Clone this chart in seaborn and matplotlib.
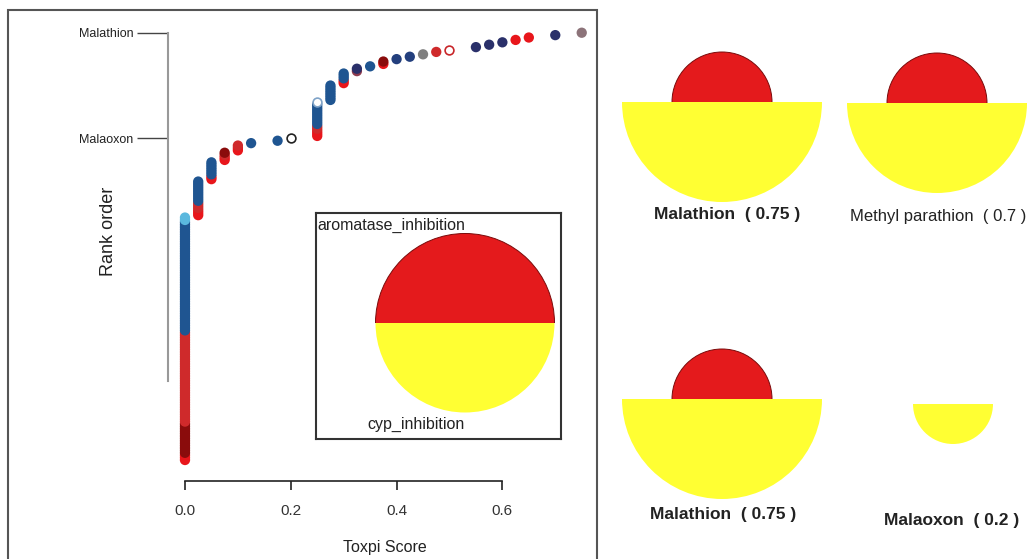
"""
ToxPi scores in rank order, with the slice key and four example glyphs
"""

import numpy as np
import pandas as pd
import matplotlib
matplotlib.use("Agg")
import matplotlib.pyplot as plt
from matplotlib.patches import Wedge, Rectangle, Arc
import seaborn as sns

# ---- data -------------------------------------------------------------
# ToxPi score levels, low to high
scores = [0.0, 0.025, 0.05, 0.075, 0.1, 0.125, 0.175, 0.2, 0.25, 0.275,
          0.3, 0.325, 0.35, 0.375, 0.4, 0.425, 0.45, 0.475, 0.5, 0.55,
          0.575, 0.6, 0.625, 0.65, 0.7, 0.75]

# chemicals at each score (bottom to top of the column): (group, count)
groups = [
    [("red", 3), ("darkred", 13), ("brick", 38), ("blue", 46), ("cyan", 2)],
    [("red", 3), ("brick", 3), ("blue", 9)],
    [("red", 2), ("blue", 6)],
    [("red", 2), ("brick", 1), ("darkred", 1)],
    [("red", 2), ("brick", 1)],
    [("blue", 1)],
    [("blue", 1)],
    [("open_black", 1)],
    [("red", 3), ("brick", 2), ("blue", 9), ("open_blue", 1)],
    [("blue", 7)],
    [("red", 2), ("blue", 3)],
    [("plum", 1), ("navy", 1)],
    [("blue", 1)],
    [("red", 1), ("darkred", 1)],
    [("steel", 1)],
    [("steel", 1)],
    [("gray", 1)],
    [("brick", 1)],
    [("open_red", 1)],
    [("navy", 1)],
    [("navy", 1)],
    [("navy", 1)],
    [("red", 1)],
    [("red", 1)],
    [("navy", 1)],
    [("mauve", 1)],
]

labelled = {"Malathion": 0.75, "Malaoxon": 0.2}

# ToxPi glyphs on the right
glyph_names = ["Malathion", "Methyl parathion", "Malathion", "Malaoxon"]
aromatase = [0.5, 0.5, 0.5, 0.0]
cyp = [1.0, 0.9, 1.0, 0.4]
glyph_bold = [True, False, True, True]
slice_names = ["aromatase_inhibition", "cyp_inhibition"]

palette = {
    "red": "#E8161B", "brick": "#CF2A2B", "darkred": "#8A0C0C",
    "blue": "#1F5591", "cyan": "#5BB8DE", "navy": "#2A306A",
    "steel": "#233F7D", "plum": "#8E3B4E", "gray": "#7F7F7F",
    "mauve": "#8C7379",
}
open_edges = {"open_black": "#222222", "open_red": "#C8262A", "open_blue": "#7FA3C8"}
RED, YELLOW, EDGE = "#E41A1C", "#FFFF33", "#7A0A0A"

# ---- build the rank table ---------------------------------------------
rows = []
for sc, runs in zip(scores, groups):
    for grp, n in runs:
        rows.extend([(sc, grp)] * n)
df = pd.DataFrame(rows, columns=["score", "group"])
df["rank"] = np.arange(1, len(df) + 1)

sns.set_style("white")
plt.rcParams["font.family"] = ["Liberation Sans", "DejaVu Sans"]
TXT = "#222222"

W, H = 1032, 559
fig = plt.figure(figsize=(W / 100, H / 100), dpi=100)


def px_axes(left, top, right, bottom):
    return fig.add_axes([left / W, 1 - bottom / H, (right - left) / W, (bottom - top) / H])


def half_top(axis, cx, cy, r):
    # red upper half with a thin dark rim on the arc only
    axis.add_patch(Wedge((cx, cy), r, 0, 180, facecolor=RED, edgecolor="none"))
    axis.add_patch(Arc((cx, cy), 2 * r, 2 * r, theta1=0, theta2=180,
                       color=EDGE, linewidth=0.7))


# ---- main rank plot ---------------------------------------------------
ax = px_axes(168, 20, 595, 481)
filled = df[~df["group"].isin(open_edges)]
sns.scatterplot(data=filled, x="score", y="rank", hue="group", palette=palette,
                s=55, linewidth=0, legend=False, ax=ax)
for grp, ec in open_edges.items():
    sub = df[df["group"] == grp]
    ax.scatter(sub["score"], sub["rank"], s=40, facecolors="white",
               edgecolors=ec, linewidths=1.2, zorder=3)

ax.set_xlim(-0.0321, 0.7751)
ax.set_ylim(-7.75, 184.3)
for side in ["top", "right"]:
    ax.spines[side].set_visible(False)
ax.spines["bottom"].set_bounds(0, 0.6)
ax.spines["bottom"].set_color(TXT)
ax.spines["bottom"].set_linewidth(1.2)
ax.spines["left"].set_bounds(34, 179)
ax.spines["left"].set_color("#999999")
ax.spines["left"].set_linewidth(1.5)

ax.set_xticks([0, 0.2, 0.4, 0.6])
ax.set_xticklabels(["0.0", "0.2", "0.4", "0.6"])
ax.tick_params(axis="x", length=6.5, width=1.2, color=TXT, pad=10,
               labelsize=11, labelcolor="#333333", bottom=True)

label_ranks = [df.loc[df["score"] == v, "rank"].max() for v in labelled.values()]
ax.set_yticks(label_ranks)
ax.set_yticklabels(list(labelled.keys()))
ax.tick_params(axis="y", length=22, width=1, color="#444444", pad=3,
               labelsize=9, labelcolor=TXT, left=True)

ax.set_xlabel("Toxpi Score", fontsize=11.5, color=TXT)
ax.xaxis.label.set_va("center")
ax.xaxis.set_label_coords(0.508, -0.1453)
ax.set_ylabel("Rank order", fontsize=13, color=TXT)
ax.yaxis.label.set_va("center")
ax.yaxis.set_label_coords(-0.1405, 0.542)

# ---- slice key inset --------------------------------------------------
key = px_axes(316, 213, 561, 439)
kc = (465, H - 323)
wedges, _ = key.pie([1, 1], colors=[RED, YELLOW], startangle=0, radius=89.5,
                    center=kc, frame=True, wedgeprops={"edgecolor": "none"})
key.add_patch(Arc(kc, 2 * 89.5, 2 * 89.5, theta1=0, theta2=180,
                  color=EDGE, linewidth=0.7))
key.set_xlim(316, 561)
key.set_ylim(H - 439, H - 213)
key.set_xticks([])
key.set_yticks([])
for sp in key.spines.values():
    sp.set_visible(True)
    sp.set_color("#333333")
    sp.set_linewidth(1.5)
key.text(465, H - 225, slice_names[0], ha="right", va="center", fontsize=11.5, color=TXT)
key.text(465, H - 424, slice_names[1], ha="right", va="center", fontsize=11.5, color=TXT)

# ---- example glyphs ---------------------------------------------------
gx = px_axes(600, 0, W, H)
gx.set_xlim(600, W)
gx.set_ylim(0, H)
gx.axis("off")
R = 100
centres = [(722, 102), (937, 103), (722, 399), (953, 404)]
text_pos = [(727, 215), (938, 217), (723, 515), (952, 520)]
for name, a, c, bold, (cx, cy), (tx, ty) in zip(glyph_names, aromatase, cyp,
                                                glyph_bold, centres, text_pos):
    if a > 0:
        half_top(gx, cx, H - cy, a * R)
    if c > 0:
        gx.add_patch(Wedge((cx, H - cy), c * R, 180, 360, facecolor=YELLOW,
                           edgecolor="none"))
    score = (a + c) / 2
    gx.text(tx, H - ty, f"{name}  ( {score:g} )", ha="center", va="center",
            fontsize=12.5 if bold else 12, fontweight="bold" if bold else "normal",
            color=TXT)

# frame around the left panel
fig.add_artist(Rectangle((8 / W, -0.02), (597 - 8) / W, 1.02 - 10 / H,
                         transform=fig.transFigure, fill=False,
                         edgecolor="#555555", linewidth=1.5))

fig.savefig("out.png", dpi=100)
plt.close(fig)
